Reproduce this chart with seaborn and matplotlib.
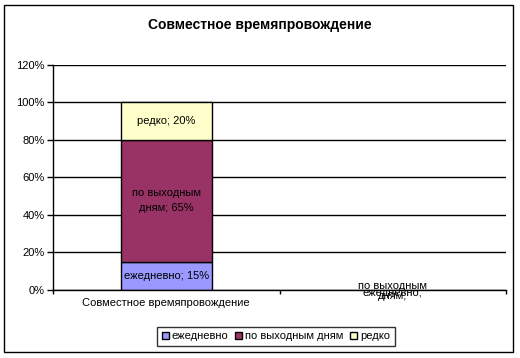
import pandas as pd
import matplotlib
matplotlib.use('Agg')
import matplotlib.pyplot as plt
import seaborn as sns
from matplotlib.patches import Patch, Rectangle
from matplotlib.ticker import FuncFormatter, FixedLocator

# Данные
categories = ['Совместное времяпровождение', '']
series = ['ежедневно', 'по выходным дням', 'редко']
ezhednevno = [15, None]
vyhodnye = [65, None]
redko = [20, None]
colors = ['#9999FF', '#993366', '#FFFFCC']
bar_labels = ['ежедневно; 15%', 'по выходным\nдням; 65%', 'редко; 20%']
empty_labels = ['по выходным\nдням;', 'ежедневно;']
y_ticks = [0, 20, 40, 60, 80, 100, 120]

sns.set_style('white')
plt.rcParams['font.family'] = ['Liberation Sans', 'DejaVu Sans']
plt.rcParams['text.color'] = 'black'
plt.rcParams['xtick.color'] = 'black'
plt.rcParams['ytick.color'] = 'black'

fig = plt.figure(figsize=(5.2, 3.58), dpi=100)
ax = fig.add_axes([0.102, 0.19, 0.871, 0.629])

values = [ezhednevno, vyhodnye, redko]
bottom = 0
for name, vals, col, lab in zip(series, values, colors, bar_labels):
    # только непустые категории
    df = pd.DataFrame({'cat': categories, 'val': vals}).dropna()
    sns.barplot(data=df, x='cat', y='val', order=categories, color=col, width=0.4,
                errorbar=None, edgecolor='black', linewidth=1, bottom=bottom,
                saturation=1, ax=ax)
    v = vals[0]
    ax.text(0, bottom + v / 2, lab, ha='center', va='center', fontsize=8, color='black',
            linespacing=1.6)
    bottom += v

# подписи для пустой категории
ax.text(1, -0.5, empty_labels[0], ha='center', va='center', fontsize=8, linespacing=1.1)
ax.text(1, -1.5, empty_labels[1], ha='center', va='center', fontsize=8)

ax.set_ylim(0, 120)
ax.set_xlim(-0.5, 1.5)
ax.set_yticks(y_ticks)
ax.yaxis.set_major_formatter(FuncFormatter(lambda y, p: f'{y:.0f}%'))
ax.grid(axis='y', color='black', linewidth=1)
ax.set_axisbelow(True)
ax.set_xlabel('')
ax.set_ylabel('')
for s in ['top', 'right']:
    ax.spines[s].set_visible(False)
for s in ['left', 'bottom']:
    ax.spines[s].set_color('black')
    ax.spines[s].set_linewidth(1)
ax.tick_params(axis='y', left=True, length=4, width=1, color='black', labelsize=8, pad=2)
ax.tick_params(axis='x', which='major', length=0, labelsize=8, pad=6)
ax.xaxis.set_minor_locator(FixedLocator([-0.5, 0.5, 1.5]))
ax.tick_params(axis='x', which='minor', bottom=True, length=3, width=1, color='black')

fig.text(0.5, 1 - 25 / 358, 'Совместное времяпровождение', ha='center', va='center',
         fontsize=10, fontweight='bold')

handles = [Patch(facecolor=c, edgecolor='black', linewidth=1, label=s) for c, s in zip(colors, series)]
leg = fig.legend(handles=handles, loc='center', bbox_to_anchor=(0.531, 0.061), ncol=3,
                 fontsize=8, frameon=True, fancybox=False, handlelength=0.6, handleheight=0.6,
                 handletextpad=0.3, columnspacing=0.6, borderpad=0.4, borderaxespad=0)
leg.get_frame().set_edgecolor('black')
leg.get_frame().set_linewidth(1)

fig.patches.append(Rectangle((4 / 520, 1 - 352 / 358), 509 / 520, 347 / 358,
                             transform=fig.transFigure, fill=False, edgecolor='black', linewidth=1))

fig.savefig('out.png', dpi=100, facecolor='white')
